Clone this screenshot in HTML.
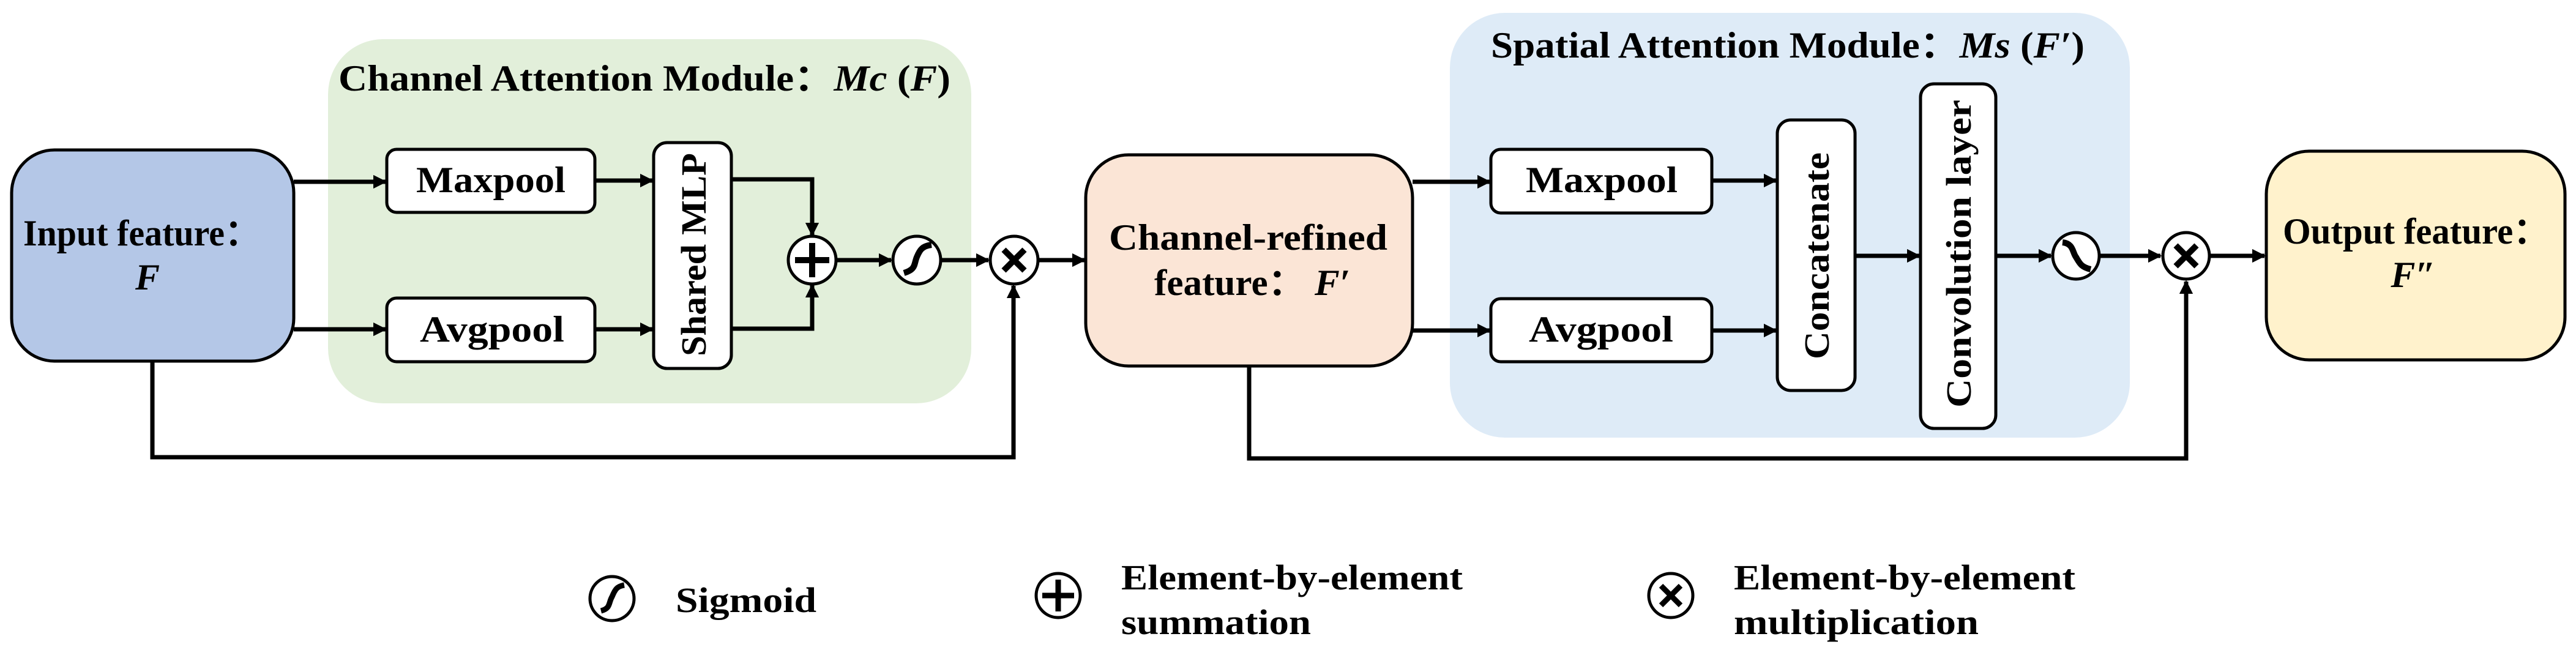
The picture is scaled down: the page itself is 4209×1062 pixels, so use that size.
<!DOCTYPE html>
<html><head><meta charset="utf-8"><style>html,body{margin:0;padding:0;background:#fff}svg{display:block}</style></head>
<body>
<svg width="4209" height="1062" viewBox="0 0 4209 1062" xmlns="http://www.w3.org/2000/svg" font-family="'Liberation Serif', serif" font-weight="bold">
<defs>
<marker id="a" viewBox="0 0 10 10" refX="9" refY="5" markerWidth="3.2" markerHeight="3.2" orient="auto" markerUnits="strokeWidth"><path d="M0,0 L10,5 L0,10 Z" fill="#000"/></marker>
</defs>
<!-- modules -->
<rect x="536" y="64" width="1051" height="595" rx="90" fill="#e2efda"/>
<rect x="2369" y="21" width="1111" height="694" rx="90" fill="#deebf7"/>
<text x="553" y="148" font-size="60" textLength="1000" lengthAdjust="spacingAndGlyphs">Channel Attention Module：<tspan font-style="italic">Mc</tspan> (<tspan font-style="italic">F</tspan>)</text>
<text x="2436" y="94" font-size="60" textLength="970" lengthAdjust="spacingAndGlyphs">Spatial Attention Module：<tspan font-style="italic">Ms</tspan> (<tspan font-style="italic">F′</tspan>)</text>

<g stroke="#000" stroke-width="7" fill="none">
<!-- channel part -->
<line x1="480" y1="297" x2="630" y2="297" marker-end="url(#a)"/>
<line x1="480" y1="538" x2="630" y2="538" marker-end="url(#a)"/>
<line x1="972" y1="295" x2="1066" y2="295" marker-end="url(#a)"/>
<line x1="972" y1="538" x2="1066" y2="538" marker-end="url(#a)"/>
<polyline points="1195,293 1327,293 1327,384" marker-end="url(#a)"/>
<polyline points="1195,537 1327,537 1327,466" marker-end="url(#a)"/>
<line x1="1367" y1="425" x2="1456" y2="425" marker-end="url(#a)"/>
<line x1="1538" y1="425" x2="1615" y2="425" marker-end="url(#a)"/>
<line x1="1697" y1="425" x2="1772" y2="425" marker-end="url(#a)"/>
<polyline points="249,590 249,747 1656,747 1656,467" marker-end="url(#a)"/>
<!-- spatial part -->
<line x1="2308" y1="297" x2="2434" y2="297" marker-end="url(#a)"/>
<line x1="2308" y1="540" x2="2434" y2="540" marker-end="url(#a)"/>
<line x1="2797" y1="295" x2="2902" y2="295" marker-end="url(#a)"/>
<line x1="2797" y1="540" x2="2902" y2="540" marker-end="url(#a)"/>
<line x1="3031" y1="418" x2="3136" y2="418" marker-end="url(#a)"/>
<line x1="3261" y1="418" x2="3351" y2="418" marker-end="url(#a)"/>
<line x1="3432" y1="418" x2="3530" y2="418" marker-end="url(#a)"/>
<line x1="3612" y1="418" x2="3700" y2="418" marker-end="url(#a)"/>
<polyline points="2041,598 2041,749 3572,749 3572,460" marker-end="url(#a)"/>
</g>

<!-- boxes -->
<g stroke="#000" stroke-width="5">
<rect x="19" y="245" width="461" height="345" rx="70" fill="#b4c7e7"/>
<rect x="1774" y="253" width="534" height="345" rx="70" fill="#fbe5d6"/>
<rect x="3703" y="247" width="488" height="341" rx="70" fill="#fff2cc"/>
<rect x="632" y="244" width="340" height="103" rx="16" fill="#fff"/>
<rect x="632" y="487" width="340" height="104" rx="16" fill="#fff"/>
<rect x="1068" y="233" width="127" height="369" rx="22" fill="#fff"/>
<rect x="2436" y="244" width="361" height="104" rx="16" fill="#fff"/>
<rect x="2436" y="488" width="361" height="103" rx="16" fill="#fff"/>
<rect x="2904" y="196" width="127" height="442" rx="22" fill="#fff"/>
<rect x="3138" y="137" width="123" height="563" rx="22" fill="#fff"/>
</g>

<!-- operators -->
<g stroke="#000" stroke-width="5" fill="#fff">
<circle cx="1327" cy="425" r="39"/>
<circle cx="1498" cy="425" r="39"/>
<circle cx="1657" cy="425" r="39"/>
<circle cx="3392" cy="418" r="38"/>
<circle cx="3572" cy="418" r="38"/>
</g>
<g stroke="#000" stroke-width="10" fill="none">
<path d="M1299,425 H1355 M1327,397 V453"/>
<path d="M1477,446 C1497,440 1493,432 1498,420 C1503,408 1507,402 1522,400"/>
<path d="M1640,408 L1674,442 M1674,408 L1640,442"/>
<path d="M3370,396 C3388,398 3386,412 3392,420 C3398,430 3400,436 3416,440"/>
<path d="M3555,401 L3589,435 M3589,401 L3555,435"/>
</g>

<!-- box texts -->
<g font-size="60" fill="#000">
<text x="38" y="401" textLength="387" lengthAdjust="spacingAndGlyphs">Input feature：</text>
<text x="241" y="473" text-anchor="middle" font-style="italic">F</text>
<text x="1812" y="408" textLength="455" lengthAdjust="spacingAndGlyphs">Channel-refined</text>
<text x="1886" y="482" textLength="320" lengthAdjust="spacingAndGlyphs">feature： <tspan font-style="italic">F′</tspan></text>
<text x="3730" y="398" textLength="435" lengthAdjust="spacingAndGlyphs">Output feature：</text>
<text x="3943" y="469" text-anchor="middle" font-style="italic">F″</text>
<text x="680" y="314" textLength="244" lengthAdjust="spacingAndGlyphs">Maxpool</text>
<text x="686" y="558" textLength="236" lengthAdjust="spacingAndGlyphs">Avgpool</text>
<text x="2493" y="314" textLength="248" lengthAdjust="spacingAndGlyphs">Maxpool</text>
<text x="2498" y="558" textLength="236" lengthAdjust="spacingAndGlyphs">Avgpool</text>
<text transform="translate(1153,582) rotate(-90)" font-size="58" textLength="332" lengthAdjust="spacingAndGlyphs">Shared MLP</text>
<text transform="translate(2988,587) rotate(-90)" font-size="58" textLength="338" lengthAdjust="spacingAndGlyphs">Concatenate</text>
<text transform="translate(3220,666) rotate(-90)" font-size="58" textLength="503" lengthAdjust="spacingAndGlyphs">Convolution layer</text>
</g>

<!-- legend -->
<g stroke="#000" stroke-width="5" fill="#fff">
<circle cx="1000" cy="978" r="36"/>
<circle cx="1729" cy="973" r="36"/>
<circle cx="2730" cy="973" r="36"/>
</g>
<g stroke="#000" stroke-width="9" fill="none">
<path d="M982,998 C998,994 994,985 1000,975 C1005,963 1008,958 1020,956"/>
<path d="M1703,973 H1755 M1729,947 V999"/>
<path d="M2714,957 L2746,989 M2746,957 L2714,989"/>
</g>
<g font-size="58" fill="#000">
<text x="1104" y="1000" textLength="230" lengthAdjust="spacingAndGlyphs">Sigmoid</text>
<text x="1832" y="963" textLength="558" lengthAdjust="spacingAndGlyphs">Element-by-element</text>
<text x="1832" y="1036" textLength="310" lengthAdjust="spacingAndGlyphs">summation</text>
<text x="2833" y="963" textLength="558" lengthAdjust="spacingAndGlyphs">Element-by-element</text>
<text x="2833" y="1036" textLength="400" lengthAdjust="spacingAndGlyphs">multiplication</text>
</g>
</svg>
</body></html>
